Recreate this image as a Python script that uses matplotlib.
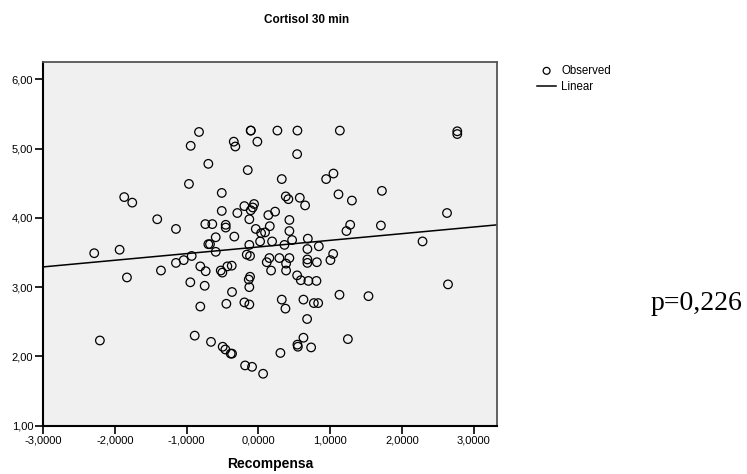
import numpy as np
import matplotlib
matplotlib.use("Agg")
import matplotlib.pyplot as plt
from matplotlib.ticker import FuncFormatter, MultipleLocator

plt.rcParams['font.family'] = ['Liberation Sans', 'DejaVu Sans']

# Recompensa (x) vs Cortisol 30 min (y)
recompensa = [
    -0.827, -0.943, -0.697, -0.967, -1.869, -1.757, -1.409, -1.148, -0.697, -2.287,
    -1.933, -0.106, -0.106, 0.265, 0.544, 1.135, -0.343, -0.321, -0.014, 0.540,
    -0.148, 0.326, 0.944, 1.046, -0.510, 1.116, 1.303, 0.382, 0.418, 0.577,
    0.651, -0.195, -0.060, -0.078, -0.106, -0.510, -0.293, 0.233, 0.139, -0.126,
    0.432, -0.739, -0.642, -0.455, -0.455, 1.279, 1.227, -0.036, 0.159, 0.038,
    0.093, 0.432, -0.594, -0.335, 0.470, 0.689, 0.191, 0.024, -0.674, -0.126,
    0.363, 0.842, 0.683, -0.594, -0.162, -0.116, 0.153, 0.432, 1.042, 2.771,
    2.771, 1.721, 2.628, 1.707, 2.287, -1.831, -1.357, -1.148, -1.040, -0.929,
    -0.809, -0.734, -0.948, -0.748, -0.809, -2.208, -0.887, 0.117, 0.293, 0.386,
    0.683, 0.683, 0.815, 1.004, -0.524, -0.502, -0.432, -0.371, 0.177, 0.386,
    -0.116, -0.134, -0.126, 0.540, 0.591, 0.697, 0.809, -0.367, -0.446, -0.195,
    -0.126, 0.326, 0.377, 0.628, 0.773, 0.833, 1.130, 1.534, 0.679, -0.660,
    -0.497, -0.460, -0.385, -0.367, -0.185, -0.088, 0.066, 0.307, 0.544, 0.550,
    0.628, 0.735, 1.247, 2.642,
]
cortisol_30 = [
    5.24, 5.04, 4.78, 4.49, 4.30, 4.22, 3.98, 3.84, 3.62, 3.49,
    3.54, 5.26, 5.26, 5.26, 5.26, 5.26, 5.10, 5.03, 5.10, 4.92,
    4.69, 4.56, 4.56, 4.64, 4.36, 4.34, 4.25, 4.31, 4.27, 4.29,
    4.18, 4.17, 4.20, 4.15, 4.11, 4.10, 4.07, 4.09, 4.04, 3.98,
    3.97, 3.91, 3.91, 3.90, 3.86, 3.90, 3.81, 3.84, 3.88, 3.78,
    3.79, 3.81, 3.72, 3.73, 3.68, 3.70, 3.66, 3.66, 3.62, 3.61,
    3.61, 3.59, 3.55, 3.51, 3.47, 3.45, 3.42, 3.42, 3.48, 5.25,
    5.21, 4.39, 4.07, 3.89, 3.66, 3.14, 3.24, 3.35, 3.39, 3.45,
    3.30, 3.23, 3.07, 3.02, 2.72, 2.23, 2.30, 3.36, 3.42, 3.34,
    3.40, 3.35, 3.36, 3.39, 3.24, 3.21, 3.30, 3.31, 3.24, 3.24,
    3.15, 3.11, 3.00, 3.17, 3.10, 3.09, 3.09, 2.93, 2.76, 2.78,
    2.75, 2.82, 2.69, 2.82, 2.77, 2.77, 2.89, 2.87, 2.54, 2.21,
    2.14, 2.10, 2.04, 2.04, 1.87, 1.85, 1.75, 2.05, 2.17, 2.14,
    2.27, 2.13, 2.25, 3.04,
]

# linear fit as drawn in the picture
fit_intercept = 3.58
fit_slope = 0.096

x_ticks = [-3, -2, -1, 0, 1, 2, 3]
title = "Cortisol 30 min"
x_label = "Recompensa"
p_text = "p=0,226"

fig = plt.figure(figsize=(7.47, 4.74), dpi=100)
ax = fig.add_axes([0.0576, 0.1019, 0.6073, 0.7673])
ax.set_facecolor("#f0f0f0")

ax.scatter(recompensa, cortisol_30, s=38, facecolors="none", edgecolors="black",
           linewidths=0.9, label="Observed", zorder=3)

ax.set_xlim(-3.0, 3.32)
ax.set_ylim(1.0, 6.25)
xs = np.array(ax.get_xlim())
ax.plot(xs, fit_intercept + fit_slope * xs, color="black", lw=1.1, label="Linear", zorder=2)

ax.set_xticks(x_ticks)
ax.yaxis.set_major_locator(MultipleLocator(1))
ax.set_ylim(1.0, 6.25)
ax.xaxis.set_major_formatter(FuncFormatter(lambda v, p: f"{v:.4f}".replace(".", ",")))
ax.yaxis.set_major_formatter(FuncFormatter(lambda v, p: f"{v:.2f}".replace(".", ",")))
ax.tick_params(axis="both", direction="out", length=6, width=1.2, labelsize=8, pad=1)

for side in ["left", "bottom"]:
    ax.spines[side].set_linewidth(1.5)
    ax.spines[side].set_color("black")
for side in ["top", "right"]:
    ax.spines[side].set_linewidth(1.3)
    ax.spines[side].set_color("#555555")

ax.set_xlabel(x_label, fontsize=10, fontweight="bold", labelpad=8)
fig.text(307 / 747, 1 - 20 / 474, title, ha="center", va="center",
         fontsize=8.5, fontweight="bold")

leg = ax.legend(loc="upper left", bbox_to_anchor=(1.077, 1.008), frameon=False,
                fontsize=8.3, handlelength=1.6, handletextpad=0.45,
                labelspacing=0.4, borderpad=0, markerscale=0.8)

fig.text(742 / 747, 1 - 310 / 474, p_text, ha="right", va="baseline",
         fontsize=20, family=["Liberation Serif", "DejaVu Serif"])

fig.savefig("out.png", dpi=100)
